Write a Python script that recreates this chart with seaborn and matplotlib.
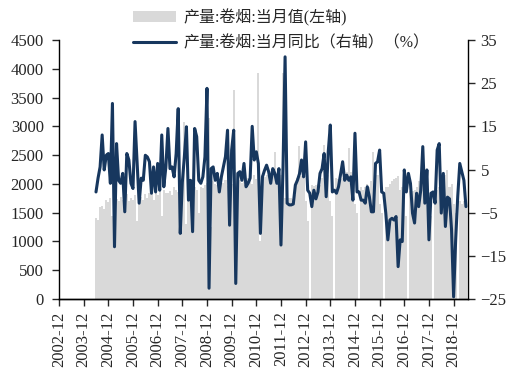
import numpy as np
import pandas as pd
import matplotlib
matplotlib.use("Agg")
import matplotlib.pyplot as plt
from matplotlib.patches import Patch
from matplotlib.lines import Line2D
import seaborn as sns

sns.set_style("white")
plt.rcParams['font.family'] = ['Liberation Serif', 'Noto Sans CJK SC']

# 月度数据：2004-06 ~ 2019-06
first_month = '2004-06'
last_month = '2019-06'

# 产量:卷烟:当月值（亿支，左轴）
output_vals = [
    1400, 1380, 1600, 1620, 1560, 1720, 1680,                                # 2004 Jun-Dec
    1750, 1450, 1780, 1740, 1700, 1780, 1720, 1800, 1820, 1700, 1760, 1720,  # 2005
    1800, 1350, 1840, 1780, 1720, 1820, 1760, 1850, 1820, 1720, 1850, 1800,  # 2006
    2000, 1450, 1900, 1850, 1850, 1880, 1800, 1950, 1900, 1860, 2000, 1950,  # 2007
    3080, 1300, 1980, 1950, 1920, 1950, 1900, 1500, 1950, 1920, 1980, 2020,  # 2008
    3140, 1250, 2050, 2000, 1980, 2050, 2000, 2020, 2060, 1960, 2050, 2000,  # 2009
    3630, 1050, 2100, 2060, 2020, 2100, 2050, 2100, 2150, 2000, 2150, 2080,  # 2010
    3920, 1000, 2150, 2120, 2150, 2200, 2100, 2150, 2560, 2050, 2200, 2150,  # 2011
    3930, 1750, 1750, 1750, 1760, 1740, 1800, 2100, 2650, 2130, 2150, 1700,  # 2012
    1350, np.nan, 1980, 1960, 1980, 2000, 1980, 2100, 2680, 2150, 2150, 1700,  # 2013
    1450, np.nan, 2100, 2080, 2080, 2100, 2120, 2200, 2620, 2200, 2150, 1650,  # 2014
    1500, np.nan, 1950, 1900, 1950, 2000, 1950, 2050, 2560, 2150, 2150, 1650,  # 2015
    1500, np.nan, 1950, 1950, 2000, 2050, 2080, 2100, 2130, 1900, 1950, 1700,  # 2016
    1450, np.nan, 1880, 1880, 1900, 1950, 2050, 2150, 2360, 1950, 1950, 1700,  # 2017
    1450, np.nan, 1900, 1900, 1950, 2000, 2100, 2150, 2250, 1950, 2000, 1650,  # 2018
    1500, np.nan, 1700, 1650, 1700, 1700,                                      # 2019 Jan-Jun
]

# 产量:卷烟:当月同比（%，右轴）
yoy_vals = [
    -0.2, 3.0, 5.6, 13.0, 4.9, 8.3, 8.7,
    1.8, 20.3, -12.9, 11.0, 2.5, 1.8, 4.1, -4.8, 8.7, 7.2, 1.8, 0.6,
    16.1, 6.4, -2.8, 3.0, 2.5, 8.3, 7.9, 6.8, -0.5, 5.6, -0.2, 6.4,
    0.2, 13.0, 1.0, 5.6, 14.5, 5.2, 5.6, 3.3, 8.7, 19.1, -9.8, 2.0,
    8.0, 14.9, -2.1, 2.5, -9.4, 14.5, 12.6, 2.5, 1.8, 3.3, 7.9, 23.8,
    -22.5, 5.2, 5.6, 2.5, 4.1, -0.2, 3.3, 5.6, 8.0, 14.1, -7.9, 9.5,
    14.1, -21.4, 4.1, 4.5, 2.5, 6.4, 1.0, 1.8, 3.0, 15.0, 7.2, 9.1,
    6.4, -9.8, 3.3, 4.8, 6.0, 4.5, 1.8, 5.2, 4.1, 1.8, 5.2, -12.5,
    5.6, 31.1, -2.8, -3.2, -3.2, -3.0, 1.4, 2.5, 4.0, 7.2, 3.3, 11.4,
    0.2, -0.5, -3.6, 0.2, -1.8, -0.2, 4.1, 5.2, 8.7, -1.3, 9.1, 15.3,
    -0.2, 0.2, -0.5, 1.0, 3.9, 6.8, 2.5, 3.7, 2.5, 3.3, -2.1, 13.4,
    -0.2, -0.2, -2.1, -2.1, -2.8, 1.0, -1.3, -4.8, -4.8, 6.4, 6.8, 9.5,
    -0.2, -0.5, -5.1, -11.3, -6.7, -6.3, -6.7, -5.9, -17.5, -11.3, -11.7, 4.9,
    -0.2, 4.1, 1.8, -5.1, -7.4, -0.5, -3.6, 0.2, 10.3, -2.8, 4.9, -11.3,
    -0.5, -0.2, -2.8, 9.5, 11.0, -5.1, 4.1, -8.2, -1.4, -1.8, -9.0, -24.5,
    -11.3, -1.3, 6.4, 4.5, 2.5, -3.6,
]

tick_labels = ['2002-12', '2003-12', '2004-12', '2005-12', '2006-12', '2007-12',
               '2008-12', '2009-12', '2010-12', '2011-12', '2012-12', '2013-12',
               '2014-12', '2015-12', '2016-12', '2017-12', '2018-12']

bar_label = '产量:卷烟:当月值(左轴)'
line_label = '产量:卷烟:当月同比（右轴）（%）'

bar_color = '#d9d9d9'
line_color = '#17375E'

# x 轴用相对 2002-12 的月序号
months = pd.period_range(first_month, last_month, freq='M')
base = pd.Period('2002-12', freq='M')
df = pd.DataFrame({
    'm': [(p - base).n for p in months],
    'output': output_vals,
    'yoy': yoy_vals,
})

fig = plt.figure(figsize=(5.13, 3.84), dpi=100)
ax = fig.add_axes([59/513, 1 - 299/384, (468 - 59)/513, (299 - 40)/384])

sns.barplot(data=df.dropna(subset=['output']), x='m', y='output', native_scale=True,
            color=bar_color, width=1.0, errorbar=None, linewidth=0, ax=ax)

ax2 = ax.twinx()
sns.lineplot(data=df, x='m', y='yoy', color=line_color, linewidth=2.2, ax=ax2)

ax.set_xlim(0, 199)
ax.set_ylim(0, 4500)
ax.set_yticks(np.arange(0, 4501, 500))
ax2.set_ylim(-25, 35)
ax2.set_yticks(np.arange(-25, 36, 10))
ax.set_xticks(np.arange(0, 12 * len(tick_labels), 12))
ax.set_xticklabels(tick_labels, rotation=90)
for a in (ax, ax2):
    a.set_xlabel('')
    a.set_ylabel('')
    a.spines['top'].set_visible(False)
    for s in a.spines.values():
        s.set_linewidth(1.0)
        s.set_color('black')

ax2.spines['left'].set_visible(False)
ax.spines['right'].set_visible(False)

ax.tick_params(axis='y', direction='out', length=5, width=1, pad=6, labelsize=12, left=True)
ax.tick_params(axis='x', direction='out', length=5, width=1, pad=4, labelsize=12, bottom=True)
ax2.tick_params(axis='y', direction='out', length=5, width=1, pad=4, labelsize=12, right=True)

handles = [Patch(facecolor=bar_color, edgecolor='none'),
           Line2D([0], [0], color=line_color, linewidth=2.2)]
fig.legend(handles, [bar_label, line_label], loc='upper left',
           bbox_to_anchor=(133/513, 1 - 9/384), frameon=False, fontsize=11.5,
           handlelength=2.7, handletextpad=0.45, borderpad=0, borderaxespad=0,
           labelspacing=0.55)

fig.savefig('out.png', dpi=100)
